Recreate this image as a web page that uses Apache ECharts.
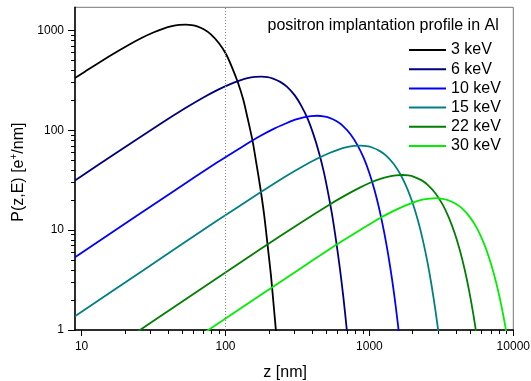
<!DOCTYPE html>
<html>
<head>
<meta charset="utf-8">
<script src="https://cdn.jsdelivr.net/npm/echarts@6/dist/echarts.min.js"></script>
<style>
  html, body { margin: 0; padding: 0; background: #fff; }
  #chart { width: 531px; height: 381px; }
</style>
</head>
<body>
<div id="chart"></div>
<script>
// Positron implantation profiles P(z,E) in aluminium, one curve per beam energy.
const energies = ['3 keV', '6 keV', '10 keV', '15 keV', '22 keV', '30 keV'];

// depth z [nm] and profile P(z,E) [e+/nm] for each energy
const depth3 = [9, 10.6, 15.9, 21.2, 26.5, 31.8, 37.1, 42.4, 47.7, 53, 58.3, 63.6, 71.6, 79.5, 90.1, 101, 111, 122, 133, 143, 154, 164, 175, 186, 196, 207, 217, 228];
const prof3 = [334, 389, 562, 717, 851, 961, 1046, 1105, 1138, 1146, 1132, 1098, 1016, 909, 745, 579, 428, 301, 202, 129, 79.2, 46.4, 26.0, 13.9, 7.16, 3.52, 1.66, 0.75];

const depth6 = [9, 17.8, 35.6, 53.4, 71.2, 89, 107, 125, 142, 160, 178, 196, 214, 240, 267, 303, 338, 374, 409, 445, 481, 516, 552, 587, 623, 659, 694, 730];
const prof6 = [31.4, 60.7, 117, 169, 216, 256, 289, 315, 333, 343, 345, 341, 330, 306, 274, 224, 174, 129, 90.6, 60.8, 39.0, 23.8, 14.0, 7.82, 4.20, 2.15, 1.06, 0.50];

const depth10 = [9, 13.1, 43.6, 87.2, 131, 174, 218, 262, 305, 349, 392, 436, 480, 523, 589, 654, 741, 828, 916, 1003, 1090, 1177, 1264, 1352, 1439, 1526, 1613];
const prof10 = [5.35, 7.69, 24.6, 47.5, 68.6, 87.6, 104, 117, 128, 135, 139, 140, 138, 134, 124, 111, 91.0, 70.8, 52.3, 36.8, 24.7, 15.8, 9.67, 5.66, 3.17, 1.70, 0.874];

const depth15 = [9, 26.1, 87.1, 174, 261, 348, 436, 523, 610, 697, 784, 871, 958, 1045, 1176, 1307, 1481, 1655, 1829, 2003, 2178, 2352, 2526, 2700, 2874, 3049];
const prof15 = [1.37, 3.86, 12.4, 23.8, 34.5, 44.0, 52.2, 59.0, 64.2, 67.8, 69.8, 70.3, 69.4, 67.3, 62.3, 55.8, 45.7, 35.5, 26.2, 18.5, 12.4, 7.94, 4.86, 2.84, 1.59, 0.855];

const depth22 = [17, 51, 170, 340, 510, 680, 851, 1021, 1191, 1361, 1531, 1701, 1871, 2041, 2296, 2552, 2892, 3232, 3572, 3912, 4253, 4593, 4933, 5273, 5613];
const prof22 = [0.676, 1.96, 6.28, 12.1, 17.5, 22.3, 26.5, 30.0, 32.6, 34.4, 35.4, 35.7, 35.3, 34.2, 31.7, 28.3, 23.2, 18.0, 13.3, 9.37, 6.29, 4.03, 2.47, 1.44, 0.809];

const depth30 = [58.5, 87.8, 293, 585, 878, 1171, 1464, 1756, 2049, 2342, 2634, 2927, 3220, 3512, 3951, 4391, 4976, 5561, 6147, 6732, 7318, 7903, 8488, 9074];
const prof30 = [0.775, 1.15, 3.67, 7.09, 10.2, 13.1, 15.5, 17.5, 19.1, 20.2, 20.7, 20.9, 20.6, 20.0, 18.5, 16.6, 13.6, 10.6, 7.80, 5.49, 3.68, 2.36, 1.44, 0.846];

// labelled decades and the unlabelled 2..9 subdivisions of each axis
const depthTicks = [10, 100, 1000, 10000];
const depthMinorTicks = [20, 30, 40, 50, 60, 70, 80, 90, 200, 300, 400, 500, 600, 700, 800, 900, 2000, 3000, 4000, 5000, 6000, 7000, 8000, 9000];
const profTicks = [1, 10, 100, 1000];
const profMinorTicks = [2, 3, 4, 5, 6, 7, 8, 9, 20, 30, 40, 50, 60, 70, 80, 90, 200, 300, 400, 500, 600, 700, 800, 900];

const curveColors = ['#000000', '#00007f', '#0000ff', '#008080', '#007f00', '#00ee00'];

const depths = [depth3, depth6, depth10, depth15, depth22, depth30];
const profiles = [prof3, prof6, prof10, prof15, prof22, prof30];

const FONT = 'Liberation Sans, Arial, Helvetica, sans-serif';
const plainNumber = (v) => String(Math.round(v));

const Z_MIN = 9, Z_MAX = 10000, P_MIN = 1, P_MAX = 1708;

const series = energies.map((name, i) => {
  // the deepest profile is bound to the twin axes that carry the minor ticks
  const axisIdx = i === energies.length - 1 ? 1 : 0;
  const s = {
    name: name,
    type: 'line',
    xAxisIndex: axisIdx,
    yAxisIndex: axisIdx,
    data: depths[i].map((z, k) => [z, profiles[i][k]]),
    symbol: 'none',
    smooth: 0.25,
    clip: true,
    color: curveColors[i],
    lineStyle: { color: curveColors[i], width: 1.8 },
    itemStyle: { color: curveColors[i] }
  };
  if (i === 0) {
    // reference depth of 100 nm
    s.markLine = {
      silent: true,
      symbol: 'none',
      label: { show: false },
      lineStyle: { type: [1, 2], color: '#888', width: 1 },
      data: [{ xAxis: 100 }]
    };
  }
  return s;
});

const chart = echarts.init(document.getElementById('chart'), null, { renderer: 'canvas' });
chart.setOption({
  animation: false,
  textStyle: { fontFamily: FONT },
  title: {
    text: 'positron implantation profile in Al',
    left: 267.5,
    top: 17.5,
    padding: 0,
    textStyle: { fontFamily: FONT, fontSize: 16, fontWeight: 'normal', color: '#000' }
  },
  legend: {
    orient: 'vertical',
    left: 409,
    top: 42,
    padding: 0,
    itemWidth: 37,
    itemHeight: 2,
    itemGap: 3.2,
    icon: 'rect',
    data: energies,
    textStyle: { fontFamily: FONT, fontSize: 16, color: '#000' }
  },
  grid: {
    left: 75,
    right: 17.7,
    top: 7.3,
    bottom: 51,
    containLabel: false,
    outerBoundsMode: 'none',
    show: true,
    borderColor: '#777',
    borderWidth: 1,
    backgroundColor: 'transparent'
  },
  xAxis: [
    {
      type: 'log',
      logBase: 10,
      min: Z_MIN,
      max: Z_MAX,
      position: 'bottom',
      z: 3,
      axisLine: { show: true, lineStyle: { color: '#000', width: 1.5 } },
      axisTick: { show: true, customValues: depthTicks, length: 6, lineStyle: { color: '#000', width: 1 } },
      axisLabel: { customValues: depthTicks, formatter: plainNumber, margin: 11, fontFamily: FONT, fontSize: 12, color: '#000' },
      splitLine: { show: false },
      name: 'z [nm]',
      nameLocation: 'middle',
      nameGap: 35,
      nameTextStyle: { fontFamily: FONT, fontSize: 16, color: '#000', padding: [0, 18, 0, 0] }
    },
    {
      type: 'log',
      logBase: 10,
      min: Z_MIN,
      max: Z_MAX,
      position: 'bottom',
      axisLine: { show: false },
      axisTick: { show: true, customValues: depthMinorTicks, length: 4, lineStyle: { color: '#000', width: 1 } },
      axisLabel: { show: false },
      splitLine: { show: false }
    }
  ],
  yAxis: [
    {
      type: 'log',
      logBase: 10,
      min: P_MIN,
      max: P_MAX,
      position: 'left',
      z: 3,
      axisLine: { show: true, lineStyle: { color: '#000', width: 1.5 } },
      axisTick: { show: true, customValues: profTicks, length: 7, lineStyle: { color: '#000', width: 1 } },
      axisLabel: { customValues: profTicks, formatter: plainNumber, margin: 11, fontFamily: FONT, fontSize: 12, color: '#000' },
      splitLine: { show: false },
      name: '{t|P(z,E) [e}{s|+}{t|/nm]}',
      nameLocation: 'middle',
      nameRotate: 90,
      nameGap: 47,
      nameTextStyle: {
        color: '#000',
        padding: [0, 7, 0, 0],
        rich: {
          t: { fontFamily: FONT, fontSize: 16, color: '#000', lineHeight: 18 },
          s: { fontFamily: FONT, fontSize: 10, color: '#000', verticalAlign: 'top', lineHeight: 10 }
        }
      }
    },
    {
      type: 'log',
      logBase: 10,
      min: P_MIN,
      max: P_MAX,
      position: 'left',
      axisLine: { show: false },
      axisTick: { show: true, customValues: profMinorTicks, length: 4, lineStyle: { color: '#000', width: 1 } },
      axisLabel: { show: false },
      splitLine: { show: false }
    }
  ],
  series: series
});
</script>
</body>
</html>
